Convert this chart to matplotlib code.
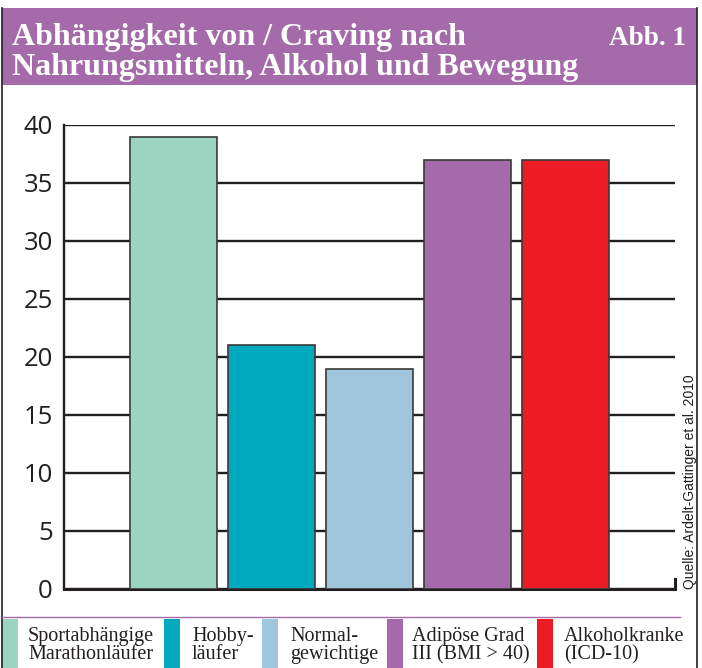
import numpy as np
import matplotlib as mpl
import matplotlib.pyplot as plt
from matplotlib.patches import Rectangle

# Werte aus Abb. 1
categories = ['Sportabhängige\nMarathonläufer', 'Hobby-\nläufer', 'Normal-\ngewichtige',
              'Adipöse Grad\nIII (BMI > 40)', 'Alkoholkranke\n(ICD-10)']
values = [39, 21, 19, 37, 37]
colors = ['#9bd4c0', '#00a9bd', '#9fc6dd', '#a46aaa', '#ed1c24']
yticks = [0, 5, 10, 15, 20, 25, 30, 35, 40]

title = 'Abhängigkeit von / Craving nach\nNahrungsmitteln, Alkohol und Bewegung'
source = 'Quelle: Ardelt-Gattinger et al. 2010'

W, H = 702, 668
purple = '#a46aaa'
ink = '#231f20'

mpl.rcParams['figure.dpi'] = 100
fig = plt.figure(figsize=(W / 100, H / 100))

# background layer in pixel coordinates for frame, title band and legend
bg = fig.add_axes([0, 0, 1, 1], zorder=0)
bg.set_xlim(0, W)
bg.set_ylim(H, 0)
bg.axis('off')

bg.add_patch(Rectangle((2, 8), 695, 77, facecolor=purple, edgecolor='none'))
bg.plot([2, 2], [8, H], color=ink, lw=1.2)
bg.plot([697, 697], [8, H], color=ink, lw=1.2)
bg.plot([2, 680], [617, 617], color=purple, lw=1.0)

line1, line2 = title.split('\n')
bg.text(12, 45, line1, color='white', family='Liberation Serif',
        weight='bold', fontsize=23, va='baseline', ha='left')
bg.text(12, 75, line2, color='white', family='Liberation Serif',
        weight='bold', fontsize=23, va='baseline', ha='left')
bg.text(686, 45, 'Abb. 1', color='white', family='Liberation Serif',
        weight='bold', fontsize=19.5, va='baseline', ha='right')

# legend strips and labels
strip_x = [2, 164, 262, 387, 537]
text_x = [28, 192, 290, 412, 564]
for sx, tx, c, lab in zip(strip_x, text_x, colors, categories):
    bg.add_patch(Rectangle((sx, 619), 16, H - 619, facecolor=c, edgecolor='none'))
    bg.text(tx, 627, lab, family='Liberation Serif', fontsize=14.5, color=ink,
            va='top', ha='left', linespacing=0.95)

bg.text(690, 589, source, rotation=90, family='Liberation Sans', fontsize=10,
        color=ink, ha='center', va='bottom')

# main chart
ax = fig.add_axes([64 / W, 1 - 589 / H, (675 - 64) / W, (589 - 125) / H], zorder=1)
ax.patch.set_alpha(0)
x = np.arange(len(values))
ax.bar(x, values, width=0.89, color=colors, edgecolor='#3a3a3a', linewidth=1.2, zorder=3)

ax.set_xlim(-1.117, 5.117)
ax.set_ylim(0, 40)
ax.set_yticks(yticks)
ax.set_xticks([])
ax.yaxis.grid(True, color=ink, lw=1.7)
ax.set_axisbelow(True)
for s in ['top', 'right']:
    ax.spines[s].set_visible(False)
ax.spines['left'].set_linewidth(1.7)
ax.spines['left'].set_color(ink)
ax.spines['bottom'].set_linewidth(2.2)
ax.spines['bottom'].set_color(ink)
ax.axvline(5.117, ymin=0, ymax=0.022, color=ink, lw=2.2, clip_on=False)
ax.tick_params(axis='y', length=0, pad=8, labelsize=18.5, labelcolor=ink)
for t in ax.get_yticklabels():
    t.set_family('Open Sans')

fig.savefig('out.png', dpi=100)
